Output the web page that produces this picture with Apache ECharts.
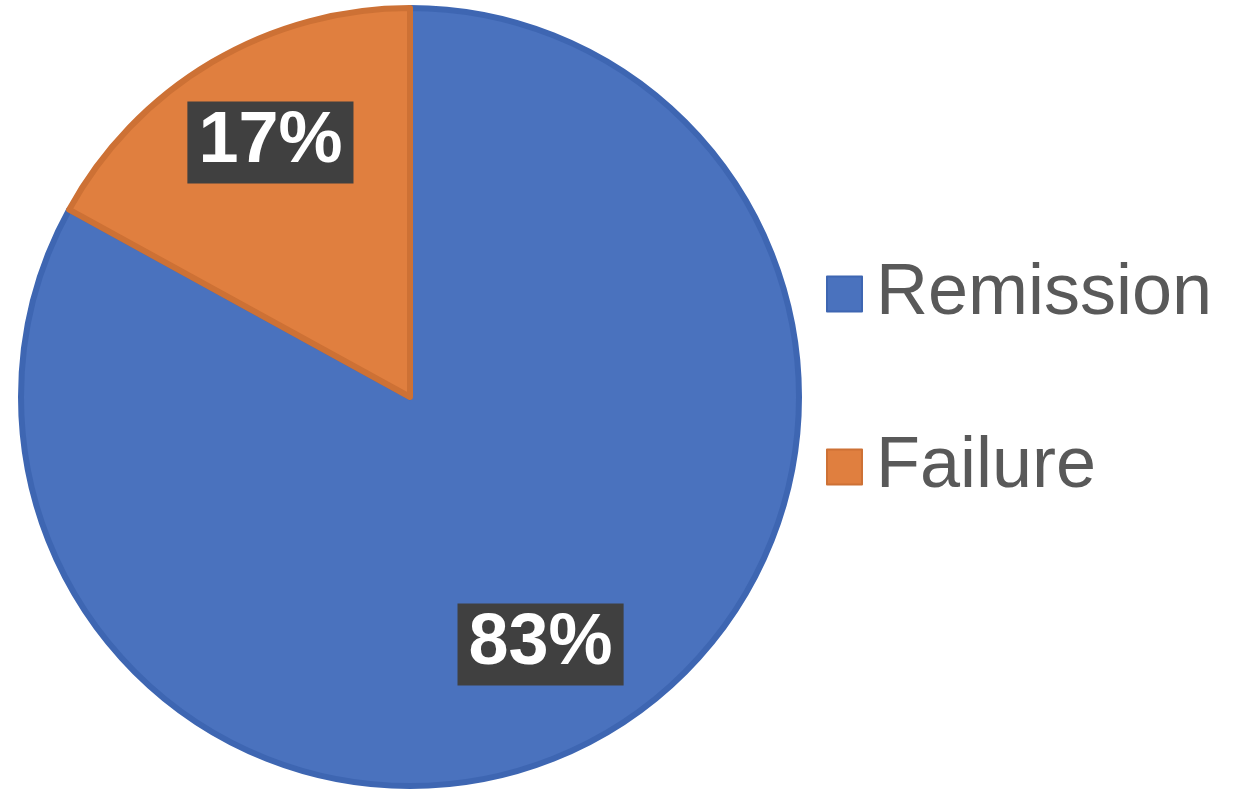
<!DOCTYPE html>
<html>
<head>
<meta charset="utf-8">
<style>
  html, body { margin: 0; padding: 0; background: #ffffff; }
  #chart { width: 1245px; height: 791px; }
</style>
<script src="https://cdn.jsdelivr.net/npm/echarts@6/dist/echarts.min.js"></script>
</head>
<body>
<div id="chart"></div>
<script>
// Treatment outcome shares (percent)
const categories = ['Remission', 'Failure'];
const shares = [83, 17];
const fillColors = ['#4a72be', '#e07f3f'];
const edgeColors = ['#3e66b2', '#cd7135'];
// small nudges for the percentage tags, per slice
const labelNudge = [[-14, 3], [5, -10]];

const chart = echarts.init(document.getElementById('chart'));

const sliceData = categories.map((name, i) => ({
  name: name,
  value: shares[i],
  itemStyle: { color: fillColors[i], borderColor: edgeColors[i] }
}));

const labelData = categories.map((name, i) => ({
  name: name,
  value: shares[i]
}));

chart.setOption({
  animation: false,
  legend: {
    orient: 'vertical',
    left: 821,
    top: 253,
    itemWidth: 35,
    itemHeight: 35,
    itemGap: 101,
    icon: 'rect',
    selectedMode: false,
    data: categories,
    textStyle: {
      fontFamily: 'Liberation Sans, Arial, sans-serif',
      fontSize: 72,
      lineHeight: 72,
      color: '#595959',
      padding: [0, 0, 0, 9]
    }
  },
  series: [
    {
      type: 'pie',
      center: [410, 397],
      radius: 389,
      startAngle: 90,
      clockwise: true,
      silent: true,
      label: { show: false },
      labelLine: { show: false },
      itemStyle: { borderWidth: 6 },
      emphasis: { disabled: true },
      data: sliceData
    },
    {
      type: 'pie',
      center: [410, 397],
      radius: [170, 392],
      startAngle: 90,
      clockwise: true,
      silent: true,
      itemStyle: { color: 'rgba(0,0,0,0)', borderWidth: 0 },
      emphasis: { disabled: true },
      labelLine: { show: false },
      labelLayout: p => ({ dx: labelNudge[p.dataIndex][0], dy: labelNudge[p.dataIndex][1] }),
      label: {
        show: true,
        position: 'inside',
        formatter: p => p.value + '%',
        fontFamily: 'Liberation Sans, Arial, sans-serif',
        fontWeight: 'bold',
        fontSize: 72,
        lineHeight: 72,
        color: '#ffffff',
        backgroundColor: '#404040',
        padding: [5, 11]
      },
      data: labelData
    }
  ]
});
</script>
</body>
</html>
